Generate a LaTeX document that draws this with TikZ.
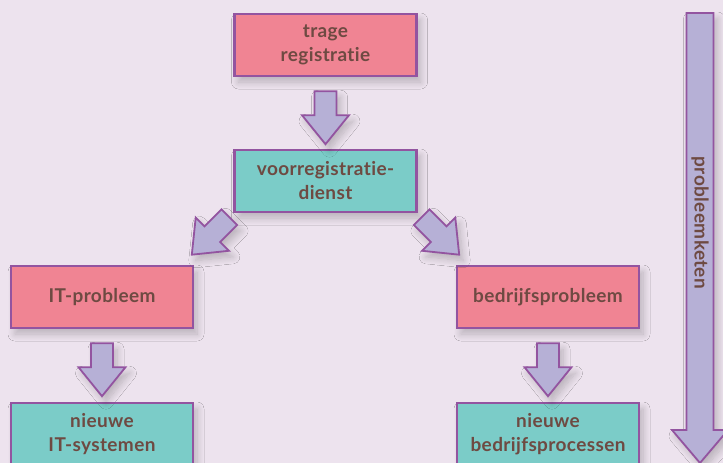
\documentclass[tikz,border=0pt]{standalone}
\usepackage{fontspec}
\setmainfont{Lato}[UprightFont=* Bold, LetterSpace=2, Ligatures={NoCommon,NoRequired,NoContextual}]
\usetikzlibrary{calc,shadows.blur}

\definecolor{bgcol}{HTML}{EDE3EE}
\definecolor{pinkfill}{HTML}{F08493}
\definecolor{tealfill}{HTML}{7BCCC8}
\definecolor{edgecol}{HTML}{9354A0}
\definecolor{arrowfill}{HTML}{B6B0D6}
\definecolor{textcol}{HTML}{6E4A42}

\tikzset{
  x=1pt, y=1pt,
  softshadow/.style={blur shadow={shadow xshift=4pt, shadow yshift=-6pt,
      shadow blur radius=7pt, shadow opacity=22, shadow blur steps=12}},
  stepbox/.style={draw=edgecol, line width=2.4pt, minimum width=182pt,
      minimum height=62pt, align=center, text=textcol, font=\fontsize{19}{24}\selectfont,
      inner sep=0pt, softshadow},
  problem/.style={stepbox, fill=pinkfill},
  solution/.style={stepbox, fill=tealfill},
  arrowbody/.style={draw=edgecol, fill=arrowfill, line width=1.8pt, line join=miter, softshadow},
  pics/blockarrow/.style={code={
      \path[arrowbody] (-11,0) -- (11,0) -- (11,-24) -- (23.5,-24) -- (0,-53)
        -- (-23.5,-24) -- (-11,-24) -- cycle;}}
}

\begin{document}
\begin{tikzpicture}
  \fill[bgcol] (0,0) rectangle (723,-463);
  \useasboundingbox (0,0) rectangle (723,-463);

  % boxes of the chain
  \node[problem]  (trage)   at (325.5,-45)  {trage\\registratie};
  \node[solution] (voor)    at (325.5,-181) {voorregistratie-\\dienst};
  \node[problem]  (itprob)  at (102,-297)   {IT-probleem};
  \node[problem]  (bedprob) at (548,-297)   {bedrijfsprobleem};
  \node[solution] (itsys)   at (102,-434)   {nieuwe\\IT-systemen};
  \node[solution] (bedproc) at (548,-434)   {nieuwe\\bedrijfsprocessen};

  % block arrows between the boxes
  \pic at ($(trage.south)+(0,-14)$) {blockarrow};
  \pic[rotate=-45] at ($(voor.south west)+(-4,-4)$) {blockarrow};
  \pic[rotate=45]  at ($(voor.south east)+(4,-4)$) {blockarrow};
  \pic at ($(itprob.south)+(0,-14)$) {blockarrow};
  \pic at ($(bedprob.south)+(0,-14)$) {blockarrow};

  % long arrow along the right edge
  \coordinate (chaintop) at (700,-13);
  \path[arrowbody] ($(chaintop)+(-13.5,0)$) -- ($(chaintop)+(13.5,0)$)
     -- ($(chaintop)+(13.5,-417)$) -- ($(chaintop)+(28,-417)$) -- ($(chaintop)+(0,-450)$)
     -- ($(chaintop)+(-28,-417)$) -- ($(chaintop)+(-13.5,-417)$) -- cycle;
  \node[rotate=-90, text=textcol, font=\fontsize{19}{20}\selectfont, inner sep=0pt]
     (keten) at ($(chaintop)+(0,-210)$) {probleemketen};
\end{tikzpicture}
\end{document}
